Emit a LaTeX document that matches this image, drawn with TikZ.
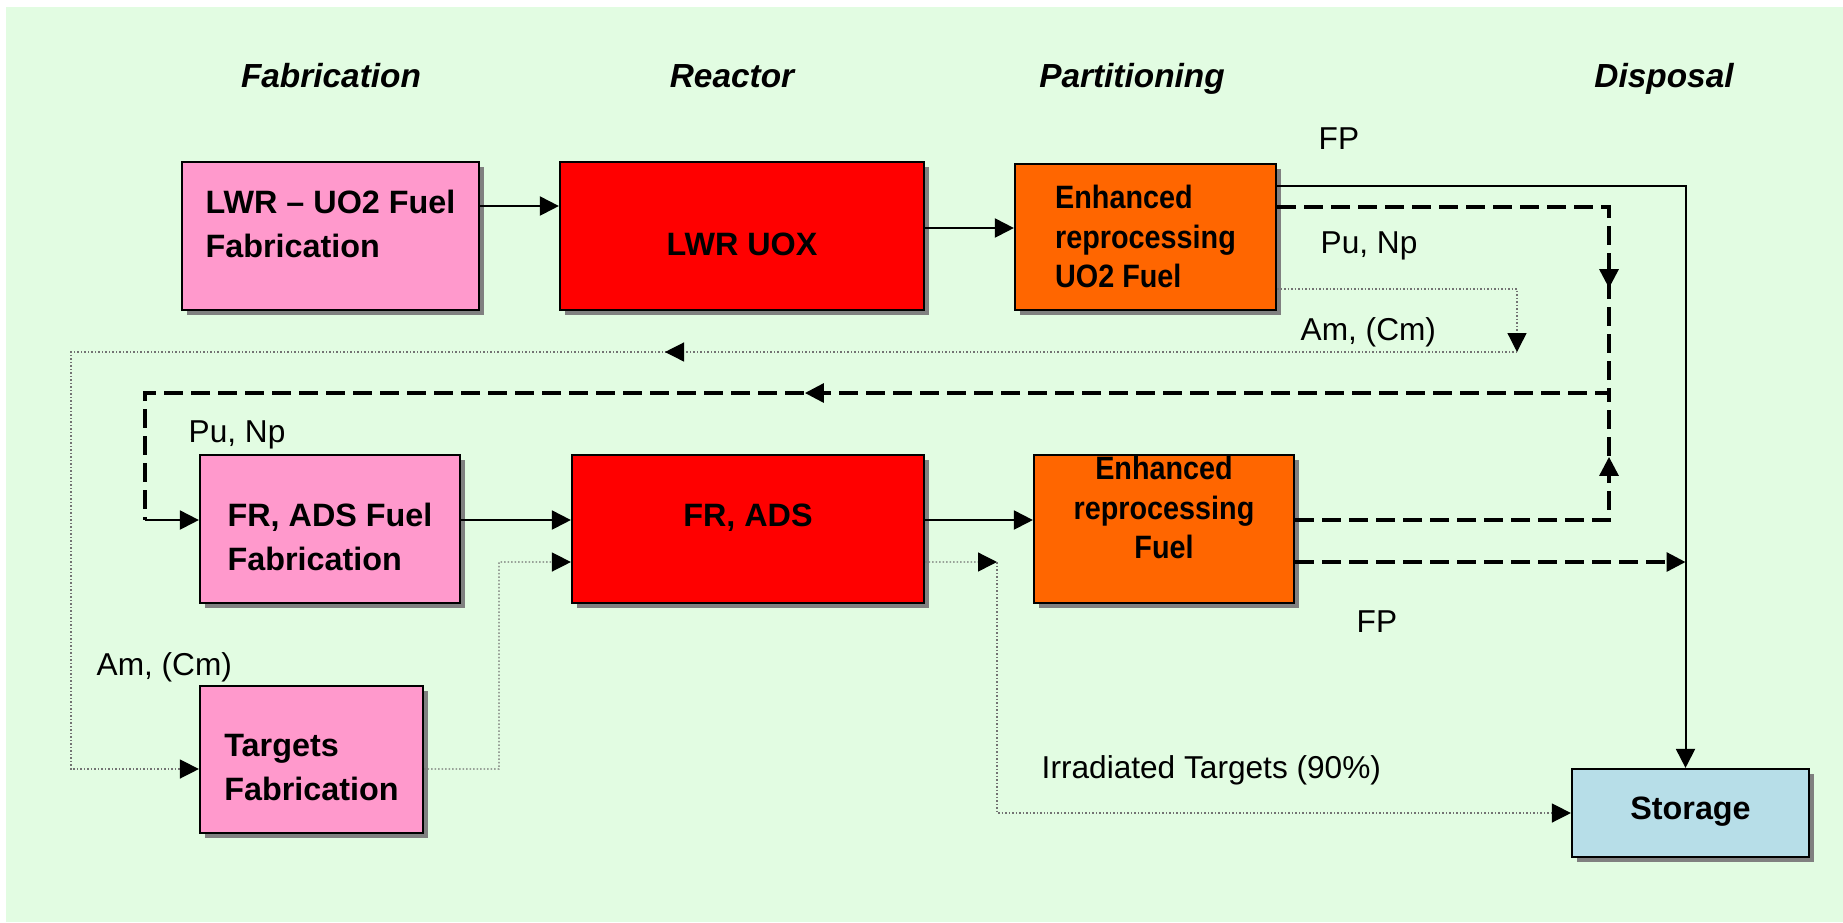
\documentclass[tikz,border=0pt]{standalone}
\usepackage{fontspec}
\setmainfont{Liberation Sans}
\newfontfamily\narrowsans[FakeStretch=0.89]{Liberation Sans}
\usetikzlibrary{arrows.meta,shadows,decorations.markings}

\definecolor{bgcol}{RGB}{226,252,226}
\definecolor{fabcol}{RGB}{255,153,204}
\definecolor{reactcol}{RGB}{255,0,0}
\definecolor{partcol}{RGB}{255,102,0}
\definecolor{storecol}{RGB}{183,222,232}

\tikzset{
  box/.style={rectangle,draw=black,line width=0.22mm,inner sep=0pt,align=left,
    font=\fontsize{9.2}{12.4}\selectfont\bfseries,
    drop shadow={shadow xshift=0.5mm,shadow yshift=-0.5mm,fill=black!50,opacity=1}},
  fabbox/.style={box,fill=fabcol},
  reactbox/.style={box,fill=reactcol},
  partbox/.style={box,fill=partcol,font=\narrowsans\bfseries\fontsize{9.2}{11.1}\selectfont},
  storebox/.style={box,fill=storecol},
  txt/.style 2 args={text height=#1,text depth=#2},
  head/.style={font=\fontsize{9.5}{11}\selectfont\bfseries\itshape,anchor=base,inner sep=0pt},
  lbl/.style={font=\fontsize{9}{11}\selectfont,anchor=base west,inner sep=0pt},
  flow/.style={->,draw=black,line width=0.2mm},
  recycle/.style={draw=black,line width=0.32mm,dash pattern=on 1.9mm off 0.8mm},
  dotline/.style={draw=black!55,line width=0.13mm,dash pattern=on 0.15mm off 0.2mm},
  midtip/.style={postaction={decorate},decoration={markings,mark=at position #1 with {\arrow{>}}}},
}

\begin{document}
\begin{tikzpicture}[x=0.1mm,y=-0.1mm,>={Triangle[length=1.9mm,width=1.9mm,color=black]}]
\useasboundingbox (0,0) rectangle (1843,922);
\fill[bgcol] (6,7) rectangle (1843,922);

% column titles
\node[head] (hfab) at (331,87) {Fabrication};
\node[head] (hreact) at (732,87) {Reactor};
\node[head] (hpart) at (1132,87) {Partitioning};
\node[head] (hdisp) at (1664,87) {Disposal};

% boxes
\node[fabbox,minimum width=29.7mm,minimum height=14.8mm,txt={6mm}{1.8mm}] (lwrfab) at (330.5,236) {LWR – UO2 Fuel\\Fabrication};
\node[reactbox,minimum width=36.4mm,minimum height=14.8mm,txt={5mm}{1.2mm}] (lwruox) at (742,236) {LWR UOX};
\node[partbox,minimum width=26.1mm,minimum height=14.6mm,txt={11mm}{1mm}] (enh1) at (1145.5,237) {Enhanced\\reprocessing\\UO2 Fuel};
\node[fabbox,minimum width=26mm,minimum height=14.8mm,txt={9mm}{0.8mm}] (frfab) at (330,529) {FR, ADS Fuel\\Fabrication};
\node[reactbox,minimum width=35.2mm,minimum height=14.8mm,txt={3mm}{3.6mm}] (frads) at (748,529) {FR, ADS};
\node[partbox,align=center,minimum width=26mm,minimum height=14.8mm,txt={8mm}{2.2mm}] (enh2) at (1164,529) {Enhanced\\reprocessing\\Fuel};
\node[fabbox,minimum width=22.3mm,minimum height=14.7mm,txt={9mm}{0.9mm}] (targfab) at (311.5,759.5) {Targets\\Fabrication};
\node[storebox,minimum width=23.7mm,minimum height=8.8mm,txt={3mm}{1.8mm}] (storage) at (1690.5,813) {Storage};

% stream labels
\node[lbl] (fp1) at (1318,149) {FP};
\node[lbl] (pu1) at (1320,253) {Pu, Np};
\node[lbl] (am1) at (1300,340) {Am, (Cm)};
\node[lbl] (pu2) at (188,442) {Pu, Np};
\node[lbl] (am2) at (96,675) {Am, (Cm)};
\node[lbl] (fp2) at (1356,632) {FP};
\node[lbl] (irr) at (1041,778) {Irradiated Targets (90\%)};

% bends
\coordinate (pujoin) at (1609,393);
\coordinate (puleft) at (145,393);
\coordinate (frin) at ([yshift=0.9mm]frfab.west);
\coordinate (fpdown) at ([xshift=-0.5mm]storage.north);
\coordinate (fpin) at ([yshift=-3.3mm]enh2.east);
\coordinate (amsplit) at (1517,352);
\coordinate (amleft) at (71,352);
\coordinate (tgturn) at (499,769);
\coordinate (irrsplit) at (997,562);

% main flow
\draw[flow] ([yshift=3mm]lwrfab.east) -- ([yshift=3mm]lwrfab.east -| lwruox.west);
\draw[flow] ([yshift=0.8mm]lwruox.east) -- ([yshift=0.8mm]lwruox.east -| enh1.west);
\draw[flow] ([yshift=0.9mm]frfab.east) -- ([yshift=0.9mm]frfab.east -| frads.west);
\draw[flow] ([yshift=0.9mm]frads.east) -- ([yshift=0.9mm]frads.east -| enh2.west);
\draw[flow] ([yshift=5.1mm]enh1.east) -| (fpdown);

% Pu, Np recycling
\draw[recycle,postaction={decorate},decoration={markings,mark=at position 41.3mm with {\arrow{>}},mark=at position 132.2mm with {\arrow{>}}}]
  ([yshift=3mm]enh1.east) -| (pujoin) -- (puleft) -- (puleft |- frin);
\draw[flow] (puleft |- frin) -- (frin);
\draw[recycle,midtip=37.7mm] ([yshift=0.9mm]enh2.east) -| (pujoin);
\draw[recycle,->] (fpin) -- (fpin -| fpdown);

% Am, (Cm) targets
\draw[dotline,->] ([yshift=-5.2mm]enh1.east) -| (amsplit);
\draw[dotline,->,midtip=85.2mm] (amsplit) -- (amleft) |- ([yshift=-0.95mm]targfab.west);
\draw[dotline,->] ([yshift=-0.95mm]targfab.east) -- (tgturn) |- ([yshift=-3.3mm]frads.west);
\draw[dotline,->] ([yshift=-3.3mm]frads.east) -- (irrsplit);
\draw[dotline,->] (irrsplit) |- (storage.west);
\end{tikzpicture}
\end{document}
